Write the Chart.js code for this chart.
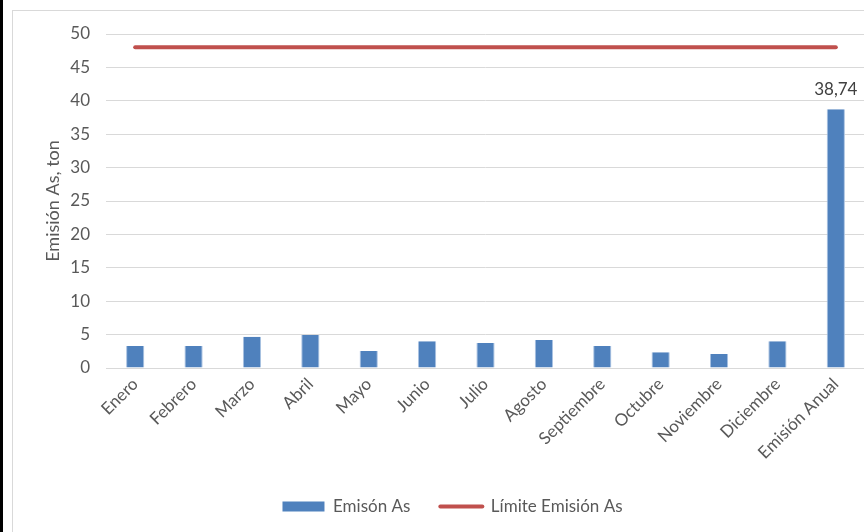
<!DOCTYPE html>
<html>
<head>
<meta charset="utf-8">
<script src="https://cdn.jsdelivr.net/npm/chart.js@4"></script>
<style>
  html, body { margin: 0; padding: 0; background: #fff; overflow: hidden; }
  #wrap { position: relative; width: 880px; height: 532px; }
  canvas { display: block; }
</style>
</head>
<body>
<div id="wrap"><canvas id="c" width="880" height="532"></canvas></div>
<script>
const categories = ['Enero','Febrero','Marzo','Abril','Mayo','Junio','Julio','Agosto','Septiembre','Octubre','Noviembre','Diciembre','Emisión Anual'];
const emisionAs = [3.29, 3.29, 4.69, 4.94, 2.54, 4.0, 3.74, 4.19, 3.29, 2.35, 2.10, 4.0, 38.74];
const limiteAs = [48, 48, 48, 48, 48, 48, 48, 48, 48, 48, 48, 48, 48];
const labeledIndex = 12;
const labelText = '38,74';

const FONT = 'Lato, "Noto Sans", sans-serif';
const TXT = '#595959';

const framePlugin = {
  id: 'frame',
  beforeDraw(chart) {
    const ctx = chart.ctx;
    ctx.save();
    ctx.fillStyle = '#fff';
    ctx.fillRect(0, 0, chart.width, chart.height);
    ctx.strokeStyle = '#d9d9d9';
    ctx.lineWidth = 1;
    ctx.strokeRect(12.5, 10.5, 1000, 1000);
    ctx.fillStyle = '#000';
    ctx.fillRect(0, 0, 3, chart.height);
    ctx.restore();
  }
};

const legendShift = {
  id: 'legendShift',
  afterLayout(chart) {
    if (chart.legend) {
      chart.legend.left += 20;
      chart.legend.right += 20;
    }
  }
};

const valueLabel = {
  id: 'valueLabel',
  afterDatasetsDraw(chart) {
    const meta = chart.getDatasetMeta(0);
    const el = meta.data[labeledIndex];
    if (!el) return;
    const ctx = chart.ctx;
    ctx.save();
    ctx.font = '17px ' + FONT;
    ctx.fillStyle = '#404040';
    ctx.textAlign = 'center';
    ctx.textBaseline = 'bottom';
    ctx.fillText(labelText, el.x, el.y - 11);
    ctx.restore();
  }
};

new Chart(document.getElementById('c'), {
  data: {
    labels: categories,
    datasets: [
      {
        type: 'bar',
        label: 'Emisón As',
        data: emisionAs,
        backgroundColor: '#4f81bd',
        borderColor: '#a9c2e2',
        borderWidth: {left: 1, right: 1, top: 0, bottom: 0},
        barPercentage: 0.6,
        categoryPercentage: 0.52,
        order: 2
      },
      {
        type: 'line',
        label: 'Límite Emisión As',
        data: limiteAs,
        borderColor: '#c0504d',
        backgroundColor: '#c0504d',
        borderWidth: 4,
        borderCapStyle: 'round',
        pointRadius: 0,
        pointHoverRadius: 0,
        fill: false,
        order: 1
      }
    ]
  },
  options: {
    responsive: false,
    animation: false,
    devicePixelRatio: 1,
    layout: { padding: { left: 0, right: 15, top: 34, bottom: 7 } },
    plugins: {
      legend: {
        position: 'bottom',
        labels: {
          usePointStyle: true,
          pointStyleWidth: 42,
          boxHeight: 10,
          padding: 30,
          color: TXT,
          font: { family: FONT, size: 17 },
          generateLabels(chart) {
            return chart.data.datasets.map((ds, i) => ({
              text: ds.label,
              fillStyle: ds.backgroundColor,
              strokeStyle: ds.type === 'line' ? ds.borderColor : ds.backgroundColor,
              lineWidth: ds.type === 'line' ? 4 : 0,
              lineCap: 'round',
              pointStyle: ds.type === 'line' ? 'line' : 'rect',
              fontColor: TXT,
              datasetIndex: i,
              hidden: false
            }));
          }
        }
      },
      tooltip: { enabled: false }
    },
    scales: {
      x: {
        grid: { display: false, drawTicks: false },
        border: { display: true, color: '#d9d9d9', width: 1 },
        ticks: {
          color: TXT,
          font: { family: FONT, size: 17 },
          maxRotation: 45,
          minRotation: 45,
          padding: 6,
          autoSkip: false
        },
        afterFit(s) { s.height = 100; }
      },
      y: {
        min: 0,
        max: 50,
        ticks: {
          stepSize: 5,
          color: TXT,
          font: { family: FONT, size: 17 },
          padding: 16
        },
        grid: { color: '#d9d9d9', lineWidth: 1, drawTicks: false },
        border: { display: false },
        title: {
          display: true,
          text: 'Emisión As, ton',
          color: TXT,
          font: { family: FONT, size: 18 },
          padding: { top: 42, bottom: 0 }
        },
        afterFit(s) { s.width = 106; }
      }
    }
  },
  plugins: [framePlugin, legendShift, valueLabel]
});
</script>
</body>
</html>
